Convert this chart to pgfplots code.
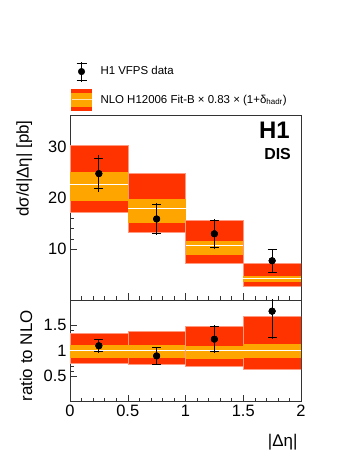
\documentclass[border=0pt]{standalone}
\usepackage{fontspec}
\setmainfont{Liberation Sans}
\usepackage{pgfplots}
\pgfplotsset{compat=1.18}

\definecolor{nlored}{HTML}{FF3300}
\definecolor{nloorange}{HTML}{FFA500}
\definecolor{nlopink}{HTML}{FF9A80}

% one NLO bin: xlo xhi | total band lo hi | scale band lo hi | central value
\newcommand{\nlobin}[7]{%
  \addplot[fill=nlored, draw=nlopink, line width=0.5bp, forget plot]
    coordinates {(#1,#3)(#2,#3)(#2,#4)(#1,#4)} -- cycle;
  \addplot[fill=nloorange, draw=none, forget plot]
    coordinates {(#1,#5)(#2,#5)(#2,#6)(#1,#6)} -- cycle;
  \addplot[white, line width=1bp, forget plot]
    coordinates {(#1,#7)(#2,#7)};
}

\pgfplotsset{
  h1style/.style={
    scale only axis, width=231bp, anchor=south west,
    xmin=0, xmax=2,
    axis line style={black!80, line width=0.6bp},
    xtick pos=lower, ytick pos=left, tick align=inside,
    major tick length=7bp, minor tick length=3.5bp,
    tick style={black!80, line width=0.5bp},
    minor x tick num=4, minor y tick num=4,
    tick label style={font=\fontsize{16.5}{19}\selectfont},
    label style={font=\fontsize{17}{19}\selectfont},
    /pgf/number format/assume math mode=true,
    xtick={0,0.5,1,1.5,2},
  },
}

\begin{document}
\begin{tikzpicture}
\useasboundingbox (0,0) rectangle (349bp,451bp);

% ---------- upper panel ----------
\begin{axis}[h1style,
    at={(70bp,151bp)}, height=185bp,
    ymin=0, ymax=36.3, ytick={10,20,30},
    xticklabels={},
    ylabel={dσ/d|Δη| [pb]},
    ylabel style={at={(axis description cs:-0.198,0.99)}, anchor=east},
    legend style={at={(axis description cs:0.004,1.292)}, anchor=north west,
      draw=none, fill=none, font=\fontsize{11.5}{13}\selectfont,
      row sep=7bp, column sep=0bp, inner sep=0pt},
    legend cell align=left,
]
\nlobin{0}{0.5}{17.3}{30.3}{19.5}{25.1}{22.6}
\nlobin{0.5}{1}{13.3}{24.8}{15.2}{19.8}{17.9}
\nlobin{1}{1.5}{7.3}{15.7}{8.9}{11.6}{10.6}
\nlobin{1.5}{2}{2.7}{7.25}{3.6}{4.8}{4.2}

% total uncertainty
\addplot[black, only marks, mark=*, mark size=3.3bp, forget plot,
  error bars/.cd, y dir=both, y explicit, error mark=none,
  error bar style={line width=0.8bp}]
  coordinates {
  (0.25,24.8) +- (0,3.6)
  (0.75,15.9) +- (0,3.2)
  (1.25,13.0) +- (0,2.9)
  (1.75,7.7)  +- (0,2.4)
};
% statistical uncertainty
\addplot[black, only marks, mark=*, mark size=3.3bp, forget plot,
  error bars/.cd, y dir=both, y explicit,
  error mark options={rotate=90, mark size=4.5bp, line width=0.8bp},
  error bar style={line width=0.8bp}]
  coordinates {
  (0.25,24.8) +- (0,3.0)
  (0.75,15.9) +- (0,2.8)
  (1.25,13.0) +- (0,2.6)
  (1.75,7.7)  +- (0,2.2)
};

\addlegendimage{legend image code/.code={
  \draw[black, line width=0.8bp] (10bp,-10bp) -- (10bp,10bp);
  \draw[black, line width=0.8bp] (5bp,-8.5bp) -- (15bp,-8.5bp)
                                 (5bp,8.5bp) -- (15bp,8.5bp);
  \fill[black] (10bp,0bp) circle (3.3bp);
  \path[draw=none] (0bp,0bp) -- (27bp,0bp);}}
\addlegendentry{H1 VFPS data}
\addlegendimage{legend image code/.code={
  \fill[nlored] (0bp,-10.5bp) rectangle (20bp,10.5bp);
  \fill[nloorange] (0bp,-6.5bp) rectangle (20bp,6.5bp);
  \draw[white!70!nloorange, line width=0.8bp] (0bp,0bp) -- (20bp,0bp);
  \path[draw=none] (0bp,0bp) -- (27bp,0bp);}}
\addlegendentry{NLO H12006 Fit-B × 0.83 × (1+δ\textsubscript{\fontsize{8}{9}\selectfont hadr})}

\node[anchor=north east, inner sep=0pt, font=\bfseries\fontsize{24}{24}\selectfont]
  at (axis description cs:0.952,0.962) {H1};
\node[anchor=north east, inner sep=0pt, font=\bfseries\fontsize{16}{16}\selectfont]
  at (axis description cs:0.957,0.822) {DIS};
\end{axis}

% ---------- lower panel ----------
\begin{axis}[h1style,
    at={(70bp,49.3bp)}, height=101.7bp,
    ymin=0, ymax=2, ytick={0.5,1,1.5},
    ylabel={ratio to NLO},
    ylabel style={at={(axis description cs:-0.19,0.934)}, anchor=east},
    xlabel={|Δη|},
    xlabel style={at={(axis description cs:1,-0.40)}, anchor=east},
]
\nlobin{0}{0.5}{0.76}{1.34}{0.86}{1.11}{1}
\nlobin{0.5}{1}{0.74}{1.385}{0.85}{1.11}{1}
\nlobin{1}{1.5}{0.69}{1.485}{0.84}{1.10}{1}
\nlobin{1.5}{2}{0.64}{1.69}{0.86}{1.14}{1}

\addplot[black, only marks, mark=*, mark size=3.3bp,
  error bars/.cd, y dir=both, y explicit, error mark=none,
  error bar style={line width=0.8bp}]
  coordinates {
  (0.25,1.10) +- (0,0.14)
  (0.75,0.90) +- (0,0.18)
  (1.25,1.23) +- (0,0.27)
  (1.75,1.78) +- (0,0.55)
};
\addplot[black, only marks, mark=*, mark size=3.3bp,
  error bars/.cd, y dir=both, y explicit,
  error mark options={rotate=90, mark size=4.5bp, line width=0.8bp},
  error bar style={line width=0.8bp}]
  coordinates {
  (0.25,1.10) +- (0,0.12)
  (0.75,0.90) +- (0,0.16)
  (1.25,1.23) +- (0,0.25)
  (1.75,1.78) +- (0,0.52)
};
\end{axis}
\end{tikzpicture}
\end{document}
